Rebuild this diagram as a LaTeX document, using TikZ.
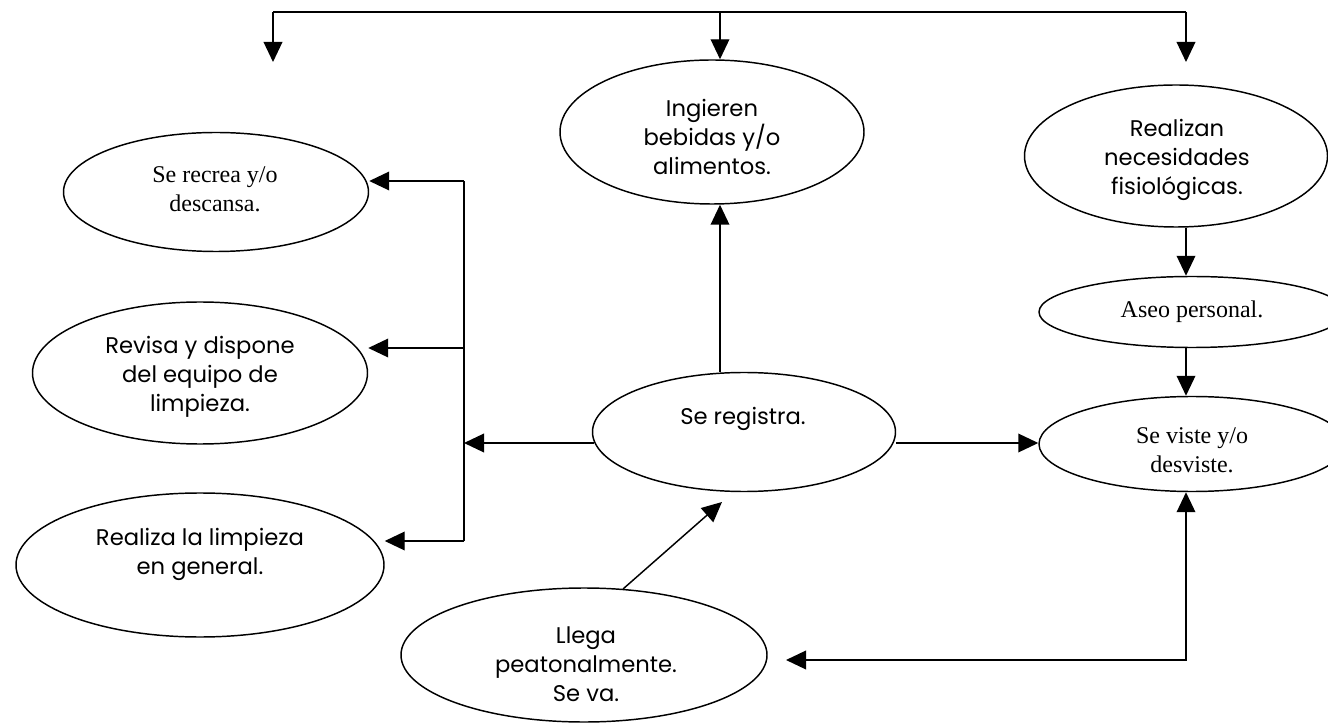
\documentclass[tikz,border=0pt]{standalone}
\usepackage{fontspec}
\setmainfont{Liberation Serif}
\newfontfamily\gothic{Poppins}
\usetikzlibrary{shapes.geometric,arrows.meta}
\begin{document}
\begin{tikzpicture}[x=0.75pt,y=-0.75pt,
  ell/.style={draw, ellipse, inner sep=0pt, line width=1.1pt},
  sanstxt/.style={align=center, inner sep=0pt, font=\gothic\fontsize{17}{21.75}\selectfont},
  seriftxt/.style={align=center, inner sep=0pt, font=\fontsize{18}{21.75}\selectfont},
  ln/.style={line width=1.1pt},
  arr/.style={ln, -{Triangle[length=15pt,width=14pt]}},
  arrboth/.style={ln, {Triangle[length=15pt,width=14pt]}-{Triangle[length=15pt,width=14pt]}}]
\useasboundingbox[fill=white] (0,0) rectangle (1328,723);

% ellipses
\node[ell, minimum width=228pt, minimum height=108pt] (ing) at (712,132) {};
\node[ell, minimum width=227.25pt, minimum height=89.25pt] (reg) at (744,432) {};
\node[ell, minimum width=228.75pt, minimum height=89.25pt] (rec) at (216,192) {};
\node[ell, minimum width=251.25pt, minimum height=106.5pt] (rev) at (200,373) {};
\node[ell, minimum width=276pt, minimum height=108pt] (rea) at (200,565) {};
\node[ell, minimum width=227.25pt, minimum height=106.5pt] (rz) at (1176,156) {};
\node[ell, minimum width=229.5pt, minimum height=53.25pt] (as) at (1192,312) {};
\node[ell, minimum width=229.5pt, minimum height=71.25pt] (vi) at (1192,444) {};
\node[ell, minimum width=274.5pt, minimum height=100.5pt] (ll) at (584,655) {};

% texts
\node[sanstxt] (ingt) at (712,137) {Ingieren\\bebidas y/o\\alimentos.};
\node[sanstxt] (regt) at (743,419) {Se registra.};
\node[seriftxt] (rect) at (215,189) {Se recrea y/o\\descansa.};
\node[sanstxt] (revt) at (200,377) {Revisa y dispone\\del equipo de\\limpieza.};
\node[sanstxt] (reat) at (200,554) {Realiza la limpieza\\en general.};
\node[sanstxt] (rzt) at (1177,160) {Realizan\\necesidades\\fisiológicas.};
\node[seriftxt] (ast) at (1192,312) {Aseo personal.};
\node[seriftxt] (vit) at (1192,450) {Se viste y/o\\desviste.};
\node[sanstxt] (llt) at (586,664) {Llega\\peatonalmente.\\Se va.};

% coordinates
\coordinate (t1) at (273,12);
\coordinate (t2) at (720,12);
\coordinate (t3) at (1186,12);
\coordinate (e1) at (273,62);
\coordinate (e3) at (1186,62);
\coordinate (b1) at (464,181);
\coordinate (b2) at (464,348);
\coordinate (b3) at (464,443);
\coordinate (b4) at (464,541);
\coordinate (c) at (1186,660);
\coordinate (lt) at (786,660);
\coordinate (d1) at (623,589);
\coordinate (d2) at (722,502);
\coordinate (rl) at (594,443);
\coordinate (rr) at (896,443);

% top bus
\draw[ln] (t1) -- (t3);
\draw[arr] (t1) -- (e1);
\draw[arr] (t2) -- (t2 |- ing.north);
\draw[arr] (t3) -- (e3);

% centre
\draw[arr] (reg.north -| t2) -- (ing.south -| t2);
\draw[arr] (rl) -- (b3);
\draw[arr] (rr) -- (rr -| vi.west);

% left bus
\draw[ln] (b1) -- (b4);
\draw[arr] (b1) -- (b1 -| rec.east);
\draw[arr] (b2) -- (b2 -| rev.east);
\draw[arr] (b4) -- (b4 -| rea.east);

% right column
\draw[arr] (rz.south -| t3) -- (as.north -| t3);
\draw[arr] (as.south -| t3) -- (vi.north -| t3);
\draw[arrboth] (lt) -- (c) -- (vi.south -| c);

% diagonal
\draw[arr] (d1) -- (d2);
\end{tikzpicture}
\end{document}
